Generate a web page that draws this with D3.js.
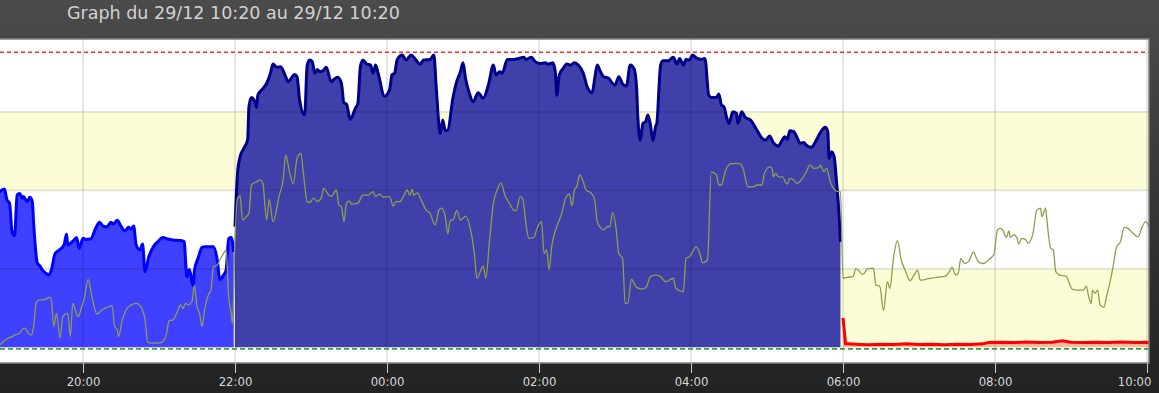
<!DOCTYPE html>
<html>
<head>
<meta charset="utf-8">
<script src="https://cdn.jsdelivr.net/npm/d3@7"></script>
<style>
  html, body { margin: 0; padding: 0; }
  body { width: 1159px; height: 393px; overflow: hidden; background: linear-gradient(#4b4b4b, #222222); }
  svg { display: block; }
</style>
</head>
<body>
<svg id="chart" width="1159" height="393"></svg>
<script>
var title = "Graph du 29/12 10:20 au 29/12 10:20";

// evening part (bright blue area)
var heatingDay = [
  ["18:54",49.5],["18:58",50.4],["19:00",46.9],["19:02",45.9],["19:04",36.8],["19:06",35.5],["19:08",48.5],
  ["19:10",49.0],["19:12",47.5],["19:13",48.0],["19:16",46.4],["19:18",47.8],["19:20",46.4],["19:21",39.6],
  ["19:24",26.8],["19:26",25.9],["19:28",24.6],["19:30",23.8],["19:33",23.0],["19:35",24.6],["19:38",29.9],
  ["19:42",31.2],["19:45",32.6],["19:47",36.1],["19:48",32.6],["19:52",33.8],["19:55",35.0],["19:57",31.5],
  ["20:00",34.7],["20:02",34.4],["20:06",34.5],["20:10",37.9],["20:13",39.8],["20:16",38.6],["20:19",38.4],
  ["20:22",39.8],["20:24",39.3],["20:27",40.5],["20:30",38.6],["20:33",37.1],["20:36",38.2],["20:38",37.6],
  ["20:40",38.6],["20:42",32.6],["20:45",31.0],["20:47",32.9],["20:49",24.1],["20:52",28.9],["20:56",32.3],
  ["20:59",33.6],["21:03",35.0],["21:07",34.5],["21:11",34.2],["21:17",34.0],["21:20",33.6],["21:21",27.3],
  ["21:22",22.5],["21:24",24.8],["21:27",19.5],["21:28",24.6],["21:31",28.6],["21:34",31.8],["21:36",32.0],
  ["21:43",32.0],["21:46",27.8],["21:48",21.6],["21:51",23.0],["21:53",24.6],["21:55",34.7],["21:57",35.0],
  ["21:59",30.4]
];

// night part (dark blue area)
var heatingNight = [
  ["22:00",38.4],["22:02",55.4],["22:04",60.7],["22:07",63.4],["22:10",66.2],["22:11",76.6],["22:13",79.6],
  ["22:15",78.8],["22:17",76.4],["22:18",80.3],["22:22",82.4],["22:25",84.1],["22:28",87.3],["22:30",90.2],
  ["22:33",89.2],["22:36",89.4],["22:40",86.2],["22:42",84.6],["22:45",86.0],["22:47",86.9],["22:49",86.2],
  ["22:51",78.8],["22:55",74.0],["22:57",89.9],["22:59",91.5],["23:01",91.0],["23:03",87.3],["23:05",88.5],
  ["23:07",87.8],["23:10",88.3],["23:12",89.2],["23:16",84.6],["23:18",85.3],["23:21",86.0],["23:24",84.1],
  ["23:26",77.9],["23:28",77.5],["23:31",72.6],["23:35",76.1],["23:37",77.7],["23:39",89.4],["23:41",91.5],
  ["23:44",90.2],["23:47",89.9],["23:49",87.3],["23:51",89.9],["23:53",87.3],["23:58",80.0],["00:02",82.0],
  ["00:04",86.8],["00:06",87.3],["00:08",91.5],["00:12",93.1],["00:15",91.5],["00:19",93.1],["00:22",92.0],
  ["00:26",90.2],["00:29",91.5],["00:34",91.7],["00:37",93.1],["00:39",82.0],["00:42",68.1],["00:44",72.4],
  ["00:46",69.0],["00:48",69.2],["00:52",79.3],["00:55",84.6],["00:58",87.8],["01:00",90.6],["01:02",85.7],
  ["01:05",80.9],["01:08",78.2],["01:12",81.1],["01:16",79.3],["01:20",83.5],["01:24",89.9],["01:26",86.7],
  ["01:29",87.8],["01:31",87.3],["01:35",91.7],["01:40",91.7],["01:44",92.0],["01:48",92.4],["01:50",91.7],
  ["01:54",92.4],["01:57",91.0],["02:01",90.4],["02:05",90.6],["02:07",90.2],["02:11",90.6],["02:13",87.3],
  ["02:14",80.3],["02:16",86.7],["02:19",88.8],["02:22",90.2],["02:25",89.9],["02:28",90.6],["02:31",89.9],
  ["02:35",87.3],["02:38",83.0],["02:42",81.1],["02:44",85.7],["02:46",89.9],["02:48",88.3],["02:51",86.2],
  ["02:55",85.7],["02:57",84.6],["03:00",83.5],["03:03",86.2],["03:06",83.9],["03:09",83.2],["03:12",89.9],
  ["03:15",88.8],["03:17",83.0],["03:18",73.4],["03:20",66.0],["03:22",71.3],["03:24",71.8],["03:26",74.0],
  ["03:28",70.8],["03:30",65.8],["03:32",70.3],["03:33",71.3],["03:36",89.9],["03:38",91.3],["03:42",91.3],
  ["03:46",92.4],["03:49",90.2],["03:51",92.0],["03:54",89.9],["03:56",91.7],["03:59",91.5],["04:01",93.1],
  ["04:05",92.0],["04:08",91.7],["04:11",92.0],["04:14",80.3],["04:16",79.6],["04:20",79.6],["04:22",80.7],
  ["04:24",77.2],["04:26",76.6],["04:28",73.4],["04:30",71.3],["04:33",75.0],["04:36",74.5],["04:37",71.3],
  ["04:40",75.0],["04:43",73.2],["04:47",72.4],["04:52",69.2],["04:56",66.6],["04:59",66.0],["05:02",67.3],
  ["05:05",65.2],["05:09",64.1],["05:12",66.0],["05:14",67.1],["05:16",66.2],["05:18",69.0],["05:21",68.7],
  ["05:24",66.6],["05:26",65.0],["05:29",65.2],["05:31",64.4],["05:35",63.7],["05:39",66.0],["05:42",68.3],
  ["05:46",70.1],["05:48",68.7],["05:49",60.2],["05:51",62.3],["05:53",60.7],["05:55",52.2],["05:57",41.6],
  ["05:58",33.6]
];

// thin olive line over the whole period
var outside = [
  ["18:54",0.7],["18:58",2.1],["19:01",2.9],["19:04",3.4],["19:06",3.9],["19:10",4.5],["19:12",5.7],["19:14",6.1],
  ["19:17",4.5],["19:19",3.9],["19:21",6.6],["19:23",14.0],["19:25",15.1],["19:30",15.3],["19:34",15.9],["19:35",15.1],
  ["19:37",6.6],["19:39",10.8],["19:42",2.9],["19:44",9.7],["19:48",10.8],["19:50",3.4],["19:52",14.0],["19:54",11.9],
  ["19:56",9.7],["19:59",12.9],["20:01",15.6],["20:04",21.6],["20:07",16.1],["20:11",10.6],["20:15",11.9],["20:19",12.7],
  ["20:23",13.2],["20:25",6.6],["20:27",5.7],["20:28",3.4],["20:31",8.7],["20:34",11.9],["20:38",13.5],["20:42",14.0],
  ["20:46",12.7],["20:49",8.7],["20:51",1.8],["20:54",1.3],["20:59",1.3],["21:03",1.8],["21:06",4.5],["21:08",8.5],
  ["21:11",8.7],["21:14",10.8],["21:17",13.5],["21:19",12.4],["21:21",14.0],["21:23",13.5],["21:26",14.5],["21:28",19.8],
  ["21:30",12.9],["21:32",10.8],["21:34",6.6],["21:36",11.9],["21:39",16.7],["21:41",18.2],["21:43",25.7],["21:46",26.2],
  ["21:48",27.8],["21:51",29.9],["21:53",31.0],["21:55",16.1],["21:57",10.8],["21:58",7.6],["22:00",34.2],["22:02",47.5],
  ["22:04",48.2],["22:06",40.5],["22:09",41.6],["22:11",42.7],["22:13",51.7],["22:17",52.7],["22:20",53.3],["22:22",52.2],
  ["22:25",40.5],["22:27",47.1],["22:30",40.0],["22:35",48.5],["22:38",53.3],["22:40",61.2],["22:43",55.9],["22:46",52.0],
  ["22:49",60.2],["22:52",61.8],["22:54",55.4],["22:57",46.4],["22:59",46.1],["23:02",47.5],["23:05",46.4],["23:08",47.5],
  ["23:10",50.6],["23:14",48.5],["23:16",48.0],["23:20",50.1],["23:22",45.3],["23:24",44.8],["23:26",40.0],["23:28",45.9],
  ["23:30",46.6],["23:32",45.6],["23:37",45.9],["23:41",48.5],["23:45",48.5],["23:49",49.6],["23:51",48.0],["23:54",48.8],
  ["23:57",47.8],["00:02",48.0],["00:05",45.0],["00:07",46.4],["00:10",46.4],["00:13",48.0],["00:16",50.1],["00:18",48.5],
  ["00:20",50.3],["00:21",48.5],["00:24",49.2],["00:27",46.9],["00:31",43.7],["00:34",42.7],["00:38",39.0],["00:41",43.7],
  ["00:43",44.3],["00:46",41.6],["00:48",36.1],["00:50",40.5],["00:52",40.5],["00:55",43.5],["00:58",40.5],["01:02",41.8],
  ["01:06",37.4],["01:09",29.9],["01:11",22.0],["01:16",25.9],["01:18",22.0],["01:21",34.2],["01:24",45.9],["01:27",50.1],
  ["01:30",52.4],["01:33",48.5],["01:37",45.6],["01:40",43.7],["01:42",43.5],["01:45",48.0],["01:47",47.5],["01:50",38.4],
  ["01:52",34.7],["01:56",35.0],["01:58",37.4],["02:02",40.0],["02:04",29.9],["02:06",31.0],["02:08",24.6],["02:10",32.0],
  ["02:14",38.4],["02:18",42.7],["02:21",47.5],["02:24",48.8],["02:26",45.0],["02:28",50.1],["02:30",51.4],["02:32",54.9],
  ["02:35",52.7],["02:37",50.1],["02:41",49.2],["02:44",46.9],["02:46",40.0],["02:48",38.4],["02:51",37.4],["02:54",38.4],
  ["02:56",38.4],["02:58",42.9],["03:01",37.4],["03:03",29.9],["03:06",28.3],["03:08",14.0],["03:10",14.0],["03:13",21.6],
  ["03:17",19.1],["03:22",18.5],["03:25",19.5],["03:28",22.5],["03:32",23.0],["03:36",22.5],["03:40",20.9],["03:46",22.0],
  ["03:48",18.8],["03:54",17.7],["03:56",28.3],["03:59",28.9],["04:04",32.0],["04:07",29.9],["04:09",26.9],["04:13",27.8],
  ["04:16",55.9],["04:20",54.9],["04:22",51.7],["04:24",51.7],["04:27",55.9],["04:31",58.4],["04:35",58.6],["04:39",58.4],
  ["04:41",57.0],["04:45",51.1],["04:49",51.1],["04:52",51.7],["04:56",51.7],["04:58",55.4],["05:02",57.5],["05:04",57.0],
  ["05:05",54.3],["05:07",55.4],["05:09",54.3],["05:12",54.3],["05:16",52.0],["05:18",53.8],["05:21",53.3],["05:24",52.2],
  ["05:27",53.3],["05:31",55.9],["05:34",58.1],["05:37",57.0],["05:41",57.2],["05:42",58.1],["05:45",55.9],["05:47",57.0],
  ["05:50",52.7],["05:53",50.3],["05:56",49.6],["05:58",49.6],["06:00",22.0],["06:03",22.3],["06:08",22.5],["06:10",25.0],
  ["06:12",24.6],["06:15",23.3],["06:17",23.6],["06:19",25.0],["06:24",25.2],["06:26",19.8],["06:29",19.5],["06:32",11.7],
  ["06:35",20.9],["06:37",18.8],["06:40",28.9],["06:43",34.0],["06:46",27.8],["06:49",24.6],["06:53",21.2],["06:56",23.0],
  ["06:59",24.6],["07:01",21.4],["07:06",21.7],["07:14",22.3],["07:21",22.7],["07:24",24.1],["07:26",25.5],["07:29",23.0],
  ["07:31",23.6],["07:33",28.3],["07:36",26.7],["07:39",27.3],["07:43",30.3],["07:46",27.8],["07:48",26.9],["07:51",26.7],
  ["07:56",28.3],["07:59",29.4],["08:02",37.4],["08:04",37.9],["08:06",37.4],["08:09",35.0],["08:11",37.1],["08:12",35.0],
  ["08:15",35.8],["08:17",35.2],["08:19",32.9],["08:21",34.7],["08:24",34.4],["08:26",33.1],["08:30",36.3],["08:33",43.7],
  ["08:36",44.3],["08:37",41.6],["08:40",44.3],["08:41",40.5],["08:44",31.5],["08:46",31.0],["08:48",24.1],["08:51",23.0],
  ["08:56",22.7],["09:01",18.5],["09:05",18.2],["09:10",18.2],["09:12",19.5],["09:14",16.1],["09:16",14.0],["09:17",18.2],
  ["09:19",17.2],["09:21",18.2],["09:23",13.5],["09:26",12.7],["09:28",16.1],["09:30",19.3],["09:33",25.2],["09:36",32.0],
  ["09:39",33.6],["09:42",38.2],["09:45",37.9],["09:49",36.3],["09:53",35.2],["09:56",38.2],["09:59",40.0],["10:02",37.9]
];

// red line after 06:00
var standby = [
  ["06:00",9.4],["06:02",1.2],["06:10",1.0],["06:20",0.8],["06:30",1.0],["06:40",0.9],["06:50",1.1],["07:00",0.9],
  ["07:10",1.0],["07:20",0.8],["07:30",1.0],["07:40",0.9],["07:50",1.1],["07:55",1.5],["08:05",1.6],["08:15",1.5],
  ["08:25",1.7],["08:35",1.5],["08:45",1.6],["08:53",2.1],["09:00",1.6],["09:10",1.5],["09:20",1.6],["09:30",1.5],
  ["09:40",1.7],["09:50",1.5],["10:00",1.6],["10:02",1.5]
];

var maxThreshold = 94;
var minThreshold = -0.5;
var yellowBands = [[0, 25], [50, 75]];
var gridLevels = [25, 50, 75];

var svg = d3.select("#chart");
var plot = {left: 0, top: 39, right: 1149, bottom: 363};

function parseClock(s) {
  var p = s.split(":").map(Number);
  // evening hours are on the 28th, the rest on the 29th
  return new Date(2023, 11, p[0] >= 12 ? 28 : 29, p[0], p[1]);
}

var x = d3.scaleTime().domain([parseClock("20:00"), parseClock("10:00")]).range([83, 1147]);
var y = d3.scaleLinear().domain([-5, 98.2]).range([plot.bottom, plot.top]);

svg.append("defs").append("clipPath").attr("id", "clip")
  .append("rect")
  .attr("x", plot.left).attr("y", plot.top)
  .attr("width", plot.right - plot.left).attr("height", plot.bottom - plot.top);

svg.append("text")
  .attr("x", 67).attr("y", 19)
  .attr("font-family", "DejaVu Sans")
  .attr("font-size", "17.5px")
  .attr("fill", "#d2d2d2")
  .text(title);

var g = svg.append("g").attr("clip-path", "url(#clip)");

g.append("rect")
  .attr("x", plot.left).attr("y", plot.top)
  .attr("width", plot.right - plot.left).attr("height", plot.bottom - plot.top)
  .attr("fill", "#ffffff");

g.selectAll(".band").data(yellowBands).enter().append("rect")
  .attr("class", "band")
  .attr("x", plot.left).attr("width", plot.right - plot.left)
  .attr("y", function(d) { return y(d[1]); })
  .attr("height", function(d) { return y(d[0]) - y(d[1]); })
  .attr("fill", "#fcfdd6");

function pts(arr) {
  return arr.map(function(d) { return {t: parseClock(d[0]), v: d[1]}; });
}

var area = d3.area()
  .x(function(d) { return x(d.t); })
  .y0(y(0))
  .y1(function(d) { return y(d.v); })
  .curve(d3.curveMonotoneX);

var line = d3.line()
  .x(function(d) { return x(d.t); })
  .y(function(d) { return y(d.v); })
  .curve(d3.curveMonotoneX);

g.append("path").datum(pts(heatingDay)).attr("d", area).attr("fill", "#4040ff");
g.append("path").datum(pts(heatingNight)).attr("d", area).attr("fill", "#4040aa");

// grid drawn over the fills so it shows faintly through them
var hourTicks = x.ticks(d3.timeHour.every(2));
g.selectAll(".vgrid").data(hourTicks).enter().append("line")
  .attr("x1", function(d) { return x(d); }).attr("x2", function(d) { return x(d); })
  .attr("y1", plot.top).attr("y2", plot.bottom)
  .attr("stroke", "rgba(0,0,0,0.11)").attr("stroke-width", 1.8);
g.selectAll(".hgrid").data(gridLevels).enter().append("line")
  .attr("x1", plot.left).attr("x2", plot.right)
  .attr("y1", function(d) { return y(d); }).attr("y2", function(d) { return y(d); })
  .attr("stroke", "rgba(0,0,0,0.11)").attr("stroke-width", 1.8);

g.append("path").datum(pts(heatingDay)).attr("d", line)
  .attr("fill", "none").attr("stroke", "#0000ff").attr("stroke-width", 3).attr("stroke-linejoin", "round");
g.append("path").datum(pts(heatingNight)).attr("d", line)
  .attr("fill", "none").attr("stroke", "#00008b").attr("stroke-width", 3).attr("stroke-linejoin", "round");

g.append("path").datum(pts(outside)).attr("d", line)
  .attr("fill", "none").attr("stroke", "#8c9f4c").attr("stroke-width", 1.3);

var redArea = d3.area()
  .x(function(d) { return x(d.t); })
  .y0(y(0))
  .y1(function(d) { return y(d.v); });
g.append("path").datum(pts(standby)).attr("d", redArea).attr("fill", "rgba(255,60,60,0.35)");
g.append("path").datum(pts(standby)).attr("d", d3.line().x(function(d) { return x(d.t); }).y(function(d) { return y(d.v); }))
  .attr("fill", "none").attr("stroke", "#ff0000").attr("stroke-width", 3);

g.append("line")
  .attr("x1", plot.left).attr("x2", plot.right)
  .attr("y1", y(maxThreshold)).attr("y2", y(maxThreshold))
  .attr("stroke", "#ff2a2a").attr("stroke-width", 1.6).attr("stroke-dasharray", "4,3");
g.append("line")
  .attr("x1", plot.left).attr("x2", plot.right)
  .attr("y1", y(minThreshold)).attr("y2", y(minThreshold))
  .attr("stroke", "#3f9a3f").attr("stroke-width", 1.8).attr("stroke-dasharray", "5,3");

svg.append("rect")
  .attr("x", plot.left - 1).attr("y", plot.top)
  .attr("width", plot.right - plot.left + 1).attr("height", plot.bottom - plot.top)
  .attr("fill", "none").attr("stroke", "#808080").attr("stroke-width", 1.5);

var axis = svg.append("g")
  .attr("transform", "translate(0," + plot.bottom + ")")
  .call(d3.axisBottom(x).ticks(d3.timeHour.every(2)).tickFormat(d3.timeFormat("%H:%M")).tickSize(10).tickPadding(4.5));
axis.select(".domain").remove();
axis.selectAll(".tick line").attr("stroke", "#c8c8c8");
axis.selectAll(".tick text")
  .attr("fill", "#d8d8d8")
  .attr("font-family", "DejaVu Sans")
  .attr("font-size", "11.7px");
// last label is pushed inside the window
axis.selectAll(".tick text").filter(function(d, i, n) { return i === n.length - 1; })
  .attr("text-anchor", "end").attr("x", plot.right + 2 - x(hourTicks[hourTicks.length - 1]));
</script>
</body>
</html>
